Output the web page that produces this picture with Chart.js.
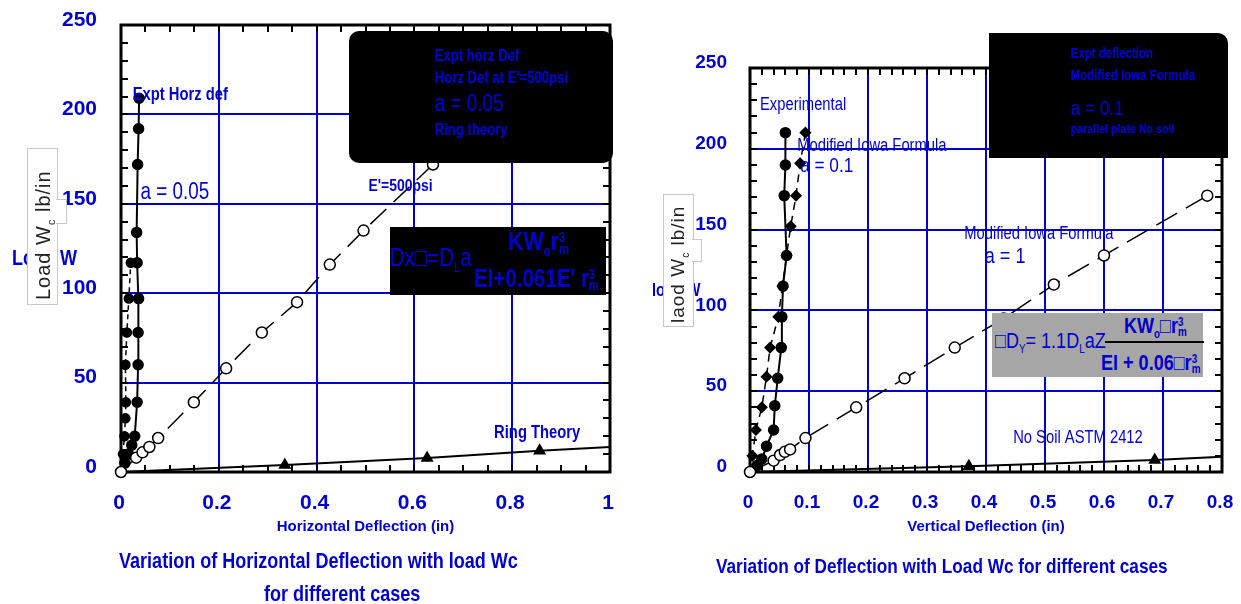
<!DOCTYPE html>
<html>
<head>
<meta charset="utf-8">
<script src="https://cdn.jsdelivr.net/npm/chart.js@4.4.0/dist/chart.umd.min.js"></script>
<style>
    body { margin: 0; width: 1241px; height: 604px; background: #fff; position: relative; overflow: hidden;
           font-family: 'Liberation Sans', Arial, sans-serif; }
    canvas { position: absolute; top: 0; }
    .t { position: absolute; color: #0000cc; white-space: nowrap; line-height: 1; transform: scaleX(0.82); transform-origin: 0 0; }
    .b { font-weight: bold; }
    .blk { position: absolute; background: #000; }
    .stk { display: inline-block; vertical-align: middle; font-size: 0.55em; line-height: 0.85; text-align: left; }
    .ytl { position: absolute; background: #fff; border: 1px solid #c8c8c8; }
    .rot { position: absolute; white-space: nowrap; color: #222; transform: rotate(-90deg); transform-origin: 0 0; letter-spacing: 1px; }
</style>
</head>
<body>
<canvas id="leftChart" width="640" height="604" style="left:0"></canvas>
<canvas id="rightChart" width="601" height="604" style="left:640px"></canvas>

<!-- left y title -->
<div class="t b" style="left:12px;top:247px;font-size:22px">Load W</div>
<div class="ytl" style="left:27px;top:148px;width:29px;height:155px"></div>
<div class="ytl" style="left:56px;top:199px;width:10px;height:23px;border-left:none"></div>
<div class="rot" style="left:32px;top:300px;font-size:20px">Load W<sub style="font-size:11px">c</sub> lb/in</div>

<!-- left legend -->
<div class="blk" style="left:349px;top:31px;width:264px;height:132px;border-radius:10px"></div>
<div class="t b" style="left:435px;top:48px;font-size:16px">Expt horz Def</div>
<div class="t b" style="left:435px;top:70px;font-size:16px">Horz Def at E'=500psi</div>
<div class="t" style="left:435px;top:92px;font-size:23px">a = 0.05</div>
<div class="t b" style="left:435px;top:122px;font-size:16px">Ring theory</div>

<!-- left formula -->
<div class="blk" style="left:390px;top:227px;width:216px;height:68px"></div>
<div class="t" style="left:390px;top:245px;font-size:25px">Dx□=D<sub style="font-size:14px">L</sub>a</div>
<div class="t b" style="left:508px;top:228px;font-size:26px">KW<sub style="font-size:14px">o</sub>r<span class="stk">3<br>m</span></div>
<div class="t b" style="left:474px;top:266px;font-size:25px">EI+0.061E' r<span class="stk">3<br>m</span></div>

<!-- left captions -->
<div class="t b" style="left:119px;top:550px;font-size:22px">Variation of Horizontal Deflection with load Wc</div>
<div class="t b" style="left:264px;top:583px;font-size:22px">for different cases</div>

<!-- right y title -->
<div class="t b" style="left:652px;top:281px;font-size:18px">load W</div>
<div class="ytl" style="left:663px;top:194px;width:29px;height:131px"></div>
<div class="ytl" style="left:692px;top:239px;width:9px;height:21px;border-left:none"></div>
<div class="rot" style="left:667px;top:323px;font-size:19px">laod W<sub style="font-size:10px">c</sub> lb/in</div>

<!-- right legend -->
<div class="blk" style="left:989px;top:33px;width:239px;height:125px;border-radius:0 10px 0 0"></div>
<div class="t b" style="left:1071px;top:46px;font-size:14px">Expt deflection</div>
<div class="t b" style="left:1071px;top:68px;font-size:14px">Modified Iowa Formula</div>
<div class="t" style="left:1071px;top:97px;font-size:21px">a = 0.1</div>
<div class="t b" style="left:1071px;top:122px;font-size:13px">parallel plate No soil</div>

<!-- right formula -->
<div style="position:absolute;left:992px;top:313px;width:211px;height:64px;background:#a6a6a6"></div>
<div class="t" style="left:995px;top:330px;font-size:22px">□D<sub style="font-size:12px">Y</sub>= 1.1D<sub style="font-size:12px">L</sub>aZ</div>
<div style="position:absolute;left:1105px;top:341px;width:99px;height:2px;background:#000"></div>
<div class="t b" style="left:1124px;top:315px;font-size:22px">KW<sub style="font-size:12px">o</sub>□r<span class="stk">3<br>m</span></div>
<div class="t b" style="left:1101px;top:352px;font-size:22px">EI + 0.06□r<span class="stk">3<br>m</span></div>

<!-- right caption -->
<div class="t b" style="left:716px;top:555px;font-size:21px">Variation of Deflection with Load Wc for different cases</div>

<script>
// ---- data: left chart (horizontal deflection, in / load, lb/in)
const leftXTicks = [0, 0.2, 0.4, 0.6, 0.8, 1];
const leftYTicks = [0, 50, 100, 150, 200, 250];
const leftExptX = [0, 0.008, 0.015, 0.022, 0.028, 0.033, 0.035, 0.035, 0.036, 0.033, 0.032, 0.034, 0.036, 0.037];
const leftExptY = [0, 5, 10, 15, 20, 39, 60, 78, 97, 117, 134, 172, 192, 209];
const leftA005X = [0, 0.004, 0.007, 0.009, 0.01, 0.009, 0.012, 0.016, 0.02];
const leftA005Y = [0, 10, 20, 30, 39, 60, 78, 97, 117];
const leftE500X = [0, 0.031, 0.044, 0.058, 0.076, 0.149, 0.215, 0.288, 0.36, 0.427, 0.496, 0.638];
const leftE500Y = [0, 8, 11, 14, 19, 39, 58, 78, 95, 116, 135, 172];
const leftRingX = [0, 0.335, 0.626, 0.856, 1.0];
const leftRingY = [0, 3.9, 7.8, 11.9, 14];

// ---- data: right chart (vertical deflection, in / load, lb/in)
const rightXTicks = [0, 0.1, 0.2, 0.3, 0.4, 0.5, 0.6, 0.7, 0.8];
const rightYTicks = [0, 50, 100, 150, 200, 250];
const rightExpX = [0, 0.012, 0.02, 0.028, 0.04, 0.042, 0.047, 0.053, 0.054, 0.056, 0.062, 0.058, 0.06, 0.06];
const rightExpY = [0, 4, 8, 16, 26, 41, 58, 77, 96, 115, 134, 171, 190, 210];
const rightIowa01X = [0, 0.004, 0.01, 0.02, 0.028, 0.034, 0.048, 0.055, 0.062, 0.069, 0.078, 0.085, 0.094];
const rightIowa01Y = [0, 10, 26, 40, 59, 77, 96, 115, 134, 152, 171, 191, 210];
const rightIowa1X = [0, 0.04, 0.051, 0.059, 0.068, 0.094, 0.18, 0.262, 0.347, 0.43, 0.515, 0.6, 0.775];
const rightIowa1Y = [0, 7, 10.5, 12.5, 14, 21, 40, 58, 77, 95, 116, 134, 171];
const rightSoilX = [0, 0.371, 0.686, 0.8];
const rightSoilY = [0, 3.5, 7.4, 9.5];

const BLUE = '#0000cc';
const FONT = "'Liberation Sans', Arial, sans-serif";

function pts(xs, ys) {
    return xs.map((x, i) => ({ x: x, y: ys[i] }));
}

// triangles only on the inner points, not at the line ends
function innerRadius(r) {
    return c => (c.dataIndex === 0 || c.dataIndex === c.dataset.data.length - 1) ? 0 : r;
}

// frame with minor ticks on all four sides
const framePlugin = {
    id: 'frame',
    beforeDatasetsDraw(chart, args, opts) {
        const { ctx, chartArea: a, scales: { x, y } } = chart;
        ctx.save();
        ctx.strokeStyle = '#000';
        ctx.lineWidth = 2;
        ctx.beginPath();
        for (let v = x.min; v <= x.max + 1e-9; v += opts.xStep) {
            const px = Math.round(x.getPixelForValue(v));
            ctx.moveTo(px, a.bottom); ctx.lineTo(px, a.bottom - opts.len);
            ctx.moveTo(px, a.top); ctx.lineTo(px, a.top + opts.len);
        }
        for (let v = y.min; v <= y.max + 1e-9; v += opts.yStep) {
            const py = Math.round(y.getPixelForValue(v));
            ctx.moveTo(a.left, py); ctx.lineTo(a.left + opts.len, py);
            ctx.moveTo(a.right, py); ctx.lineTo(a.right - opts.len, py);
        }
        ctx.stroke();
        ctx.lineWidth = 3;
        ctx.strokeRect(a.left, a.top, a.right - a.left, a.bottom - a.top);
        ctx.restore();
    }
};

// text notes placed in data coordinates, drawn condensed
const notePlugin = {
    id: 'notes',
    afterDatasetsDraw(chart, args, opts) {
        const { ctx, scales: { x, y } } = chart;
        ctx.save();
        ctx.fillStyle = BLUE;
        ctx.textAlign = 'left';
        ctx.textBaseline = 'middle';
        opts.items.forEach(n => {
            ctx.save();
            ctx.font = (n.bold ? 'bold ' : '') + n.size + 'px ' + FONT;
            ctx.translate(x.getPixelForValue(n.x), y.getPixelForValue(n.y));
            ctx.scale(0.82, 1);
            ctx.fillText(n.text, 0, 0);
            ctx.restore();
        });
        ctx.restore();
    }
};

function axes(xTicks, yTicks, xMax, size, yWidth, labelGap, title, titlePad) {
    return {
        x: {
            type: 'linear', min: 0, max: xMax,
            afterBuildTicks: s => { s.ticks = xTicks.map(v => ({ value: v })); },
            afterFit: s => { s.height = 132; },
            ticks: { color: BLUE, font: { family: FONT, size: size, weight: 'bold' }, padding: 0, maxRotation: 0,
                     labelOffset: -2, callback: v => String(v) },
            grid: { color: BLUE, lineWidth: 2, tickLength: 19, tickColor: 'rgba(0,0,0,0)' },
            border: { display: false },
            title: { display: true, text: title, color: BLUE, padding: { bottom: titlePad },
                     font: { family: FONT, size: 15, weight: 'bold' } }
        },
        y: {
            type: 'linear', min: 0, max: 250,
            afterBuildTicks: s => { s.ticks = yTicks.map(v => ({ value: v })); },
            afterFit: s => { s.width = yWidth; },
            ticks: { color: BLUE, font: { family: FONT, size: size, weight: 'bold' }, padding: 0, labelOffset: -5,
                     callback: v => String(v) },
            grid: { color: BLUE, lineWidth: 2, tickLength: labelGap, tickColor: 'rgba(0,0,0,0)' },
            border: { display: false }
        }
    };
}

function line(data, extra) {
    return Object.assign({
        data: data, showLine: true, borderColor: '#000', borderWidth: 2, tension: 0, clip: false,
        pointBackgroundColor: '#000', pointBorderColor: '#000', pointBorderWidth: 1.5, pointRadius: 5
    }, extra);
}

// Left chart
new Chart(document.getElementById('leftChart').getContext('2d'), {
    type: 'scatter',
    data: {
        datasets: [
            line(pts(leftE500X, leftE500Y), { label: "Horz Def at E'=500psi", borderDash: [22, 10], borderWidth: 1.5,
                pointBackgroundColor: '#fff', pointRadius: 5.5 }),
            line(pts(leftRingX, leftRingY), { label: 'Ring theory', pointStyle: 'triangle', pointRadius: innerRadius(6) }),
            line(pts(leftA005X, leftA005Y), { label: 'a = 0.05', borderDash: [5, 4], borderWidth: 1.5, pointRadius: 4.5 }),
            line(pts(leftExptX, leftExptY), { label: 'Expt horz Def' })
        ]
    },
    options: {
        responsive: false,
        animation: false,
        layout: { padding: { left: 0, right: 30, top: 25, bottom: 0 } },
        plugins: {
            legend: { display: false },
            tooltip: { enabled: false },
            frame: { xStep: 0.05, yStep: 10, len: 7 },
            notes: { items: [
                { text: 'Expt Horz def', x: 0.024, y: 211, size: 18, bold: true },
                { text: 'a = 0.05', x: 0.04, y: 156, size: 23 },
                { text: "E'=500psi", x: 0.506, y: 160, size: 17, bold: true },
                { text: 'Ring Theory', x: 0.763, y: 22, size: 18, bold: true }
            ] }
        },
        scales: axes(leftXTicks, leftYTicks, 1, 21, 121, 24, 'Horizontal Deflection (in)', 68)
    },
    plugins: [framePlugin, notePlugin]
});

// Right chart
new Chart(document.getElementById('rightChart').getContext('2d'), {
    type: 'scatter',
    data: {
        datasets: [
            line(pts(rightIowa1X, rightIowa1Y), { label: 'Modified Iowa Formula a = 1', borderDash: [24, 10], borderWidth: 1.5,
                pointBackgroundColor: '#fff', pointRadius: 5.5 }),
            line(pts(rightSoilX, rightSoilY), { label: 'No Soil ASTM 2412', pointStyle: 'triangle', pointRadius: innerRadius(6) }),
            line(pts(rightIowa01X, rightIowa01Y), { label: 'Modified Iowa Formula a = 0.1', borderDash: [8, 6], borderWidth: 1.5,
                pointStyle: 'rectRot', pointRadius: 5 }),
            line(pts(rightExpX, rightExpY), { label: 'Experimental' })
        ]
    },
    options: {
        responsive: false,
        animation: false,
        layout: { padding: { left: 0, right: 19, top: 68, bottom: 0 } },
        plugins: {
            legend: { display: false },
            tooltip: { enabled: false },
            frame: { xStep: 0.02, yStep: 10, len: 7 },
            notes: { items: [
                { text: 'Experimental', x: 0.017, y: 227, size: 18 },
                { text: 'Modified Iowa Formula', x: 0.08, y: 202, size: 18 },
                { text: 'a = 0.1', x: 0.085, y: 189, size: 21 },
                { text: 'Modified Iowa Formula', x: 0.363, y: 147, size: 18 },
                { text: 'a = 1', x: 0.398, y: 133, size: 22 },
                { text: 'No Soil ASTM 2412', x: 0.446, y: 21, size: 18 }
            ] }
        },
        scales: axes(rightXTicks, rightYTicks, 0.8, 19, 110, 23, 'Vertical Deflection (in)', 68)
    },
    plugins: [framePlugin, notePlugin]
});
</script>
</body>
</html>
